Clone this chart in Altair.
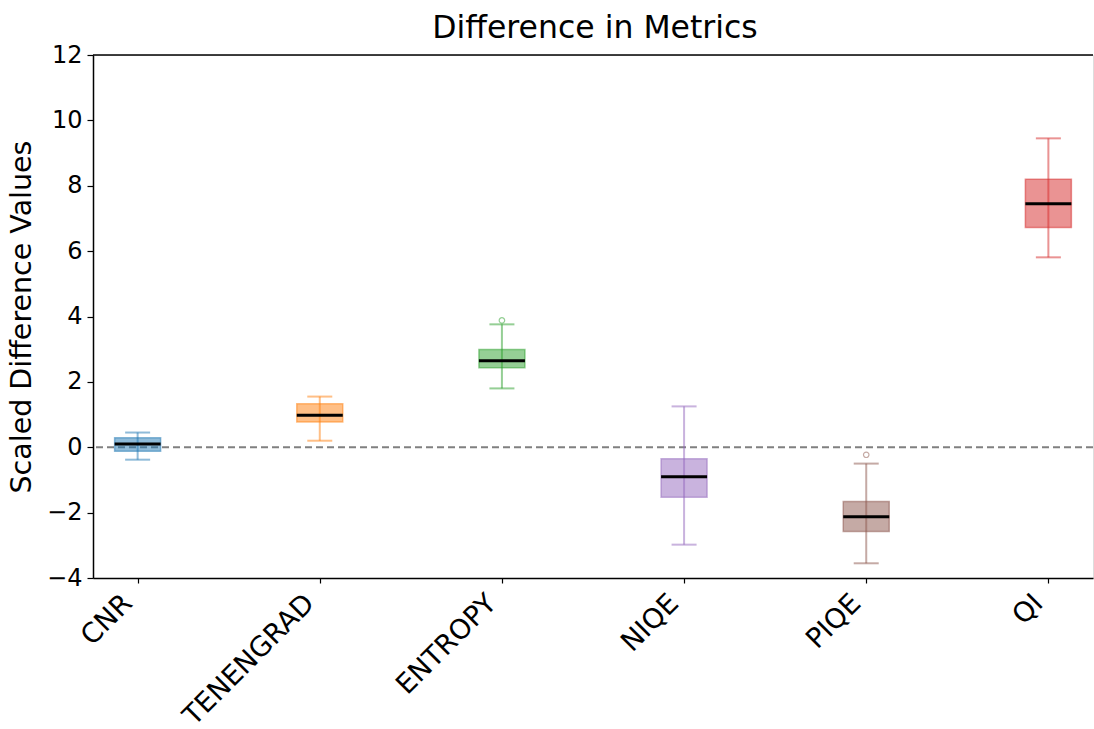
import altair as alt
import pandas as pd

metrics = ["CNR", "TENENGRAD", "ENTROPY", "NIQE", "PIQE", "QI"]
colors = ["#1f77b4", "#ff7f0e", "#2ca02c", "#9467bd", "#8c564b", "#d62728"]
whisk_lo = [-0.38, 0.20, 1.80, -2.98, -3.55, 5.81]
q1 = [-0.12, 0.77, 2.43, -1.53, -2.58, 6.72]
median = [0.10, 0.98, 2.65, -0.90, -2.13, 7.45]
q3 = [0.29, 1.33, 2.99, -0.35, -1.66, 8.20]
whisk_hi = [0.45, 1.55, 3.76, 1.25, -0.50, 9.45]
outlier_metric = ["ENTROPY", "PIQE"]
outlier_value = [3.88, -0.23]
y_ticks = [-4, -2, 0, 2, 4, 6, 8, 10, 12]
chart_title = ["Difference in Metrics"]

stats = pd.DataFrame({
    "metric": metrics, "lo": whisk_lo, "q1": q1, "med": median,
    "q3": q3, "hi": whisk_hi,
})
outl = pd.DataFrame({"metric": outlier_metric, "v": outlier_value})
zero = pd.DataFrame({"v": [0]})
title_df = pd.DataFrame({"t": chart_title})

FONT = "DejaVu Sans"

x_enc = alt.X(
    "metric:N", sort=metrics,
    scale=alt.Scale(type="point", padding=0.245, domain=metrics),
    axis=alt.Axis(
        title=None, labelAngle=-45, labelAlign="right", labelBaseline="top",
        labelFontSize=27.5, labelFont=FONT, labelColor="black",
        labelOffset=-20, labelPadding=6, labelLimit=0,
        tickSize=5, tickColor="black", tickWidth=1.2,
        domainColor="black", domainWidth=1.5,
    ),
)
y_scale = alt.Scale(domain=[-4, 12], nice=False, zero=False)
y_axis = alt.Axis(
    title="Scaled Difference Values", values=y_ticks, format="d", grid=False,
    labelFontSize=24, labelFont=FONT, labelColor="black", labelPadding=5,
    tickSize=6, tickColor="black", tickWidth=1.2,
    domainColor="black", domainWidth=1.5,
    titleFontSize=28.5, titleFont=FONT, titleFontWeight="normal", titleColor="black",
    titlePadding=10,
)
color_enc = alt.Color("metric:N", scale=alt.Scale(domain=metrics, range=colors), legend=None)

base = alt.Chart(stats)

whiskers = base.mark_rule(strokeWidth=2, opacity=0.5).encode(
    x=x_enc, y=alt.Y("lo:Q", scale=y_scale, axis=y_axis), y2="hi:Q", color=color_enc
)
caps_lo = base.mark_tick(size=25, thickness=2, opacity=0.5).encode(
    x=x_enc, y=alt.Y("lo:Q", scale=y_scale), color=color_enc
)
caps_hi = base.mark_tick(size=25, thickness=2, opacity=0.5).encode(
    x=x_enc, y=alt.Y("hi:Q", scale=y_scale), color=color_enc
)
boxes = base.mark_bar(size=46, fillOpacity=0.5, strokeOpacity=0.5, strokeWidth=1.5).encode(
    x=x_enc, y=alt.Y("q1:Q", scale=y_scale), y2="q3:Q",
    fill=color_enc, stroke=alt.Stroke("metric:N", scale=alt.Scale(domain=metrics, range=colors), legend=None),
)
medians = base.mark_tick(size=46, thickness=3, color="black", opacity=1).encode(
    x=x_enc, y=alt.Y("med:Q", scale=y_scale)
)
outliers = alt.Chart(outl).mark_point(filled=False, size=30, strokeWidth=1.2, opacity=0.5).encode(
    x=x_enc, y=alt.Y("v:Q", scale=y_scale),
    color=alt.Color("metric:N", scale=alt.Scale(domain=metrics, range=colors), legend=None),
)
zero_line = alt.Chart(zero).mark_rule(color="#808080", strokeWidth=2, strokeDash=[7, 4]).encode(
    y=alt.Y("v:Q", scale=y_scale)
)
top_border = alt.Chart(zero).mark_rule(color="black", strokeWidth=1.5).encode(
    y=alt.value(0)
)
title_text = alt.Chart(title_df).mark_text(
    font=FONT, fontSize=31.5, color="black", align="center", baseline="alphabetic"
).encode(
    x=alt.value(502), y=alt.value(-17), text="t:N"
)

chart = alt.layer(
    zero_line, whiskers, caps_lo, caps_hi, boxes, medians, outliers, top_border, title_text
).properties(
    width=1000, height=523,
    padding={"left": 93, "top": 55, "right": 1, "bottom": 151},
    autosize=alt.AutoSizeParams(type="none"),
).configure_view(strokeWidth=0, stroke="transparent").configure(background="white")

chart.save("out.html", embed_options={"renderer": "svg", "actions": False})
